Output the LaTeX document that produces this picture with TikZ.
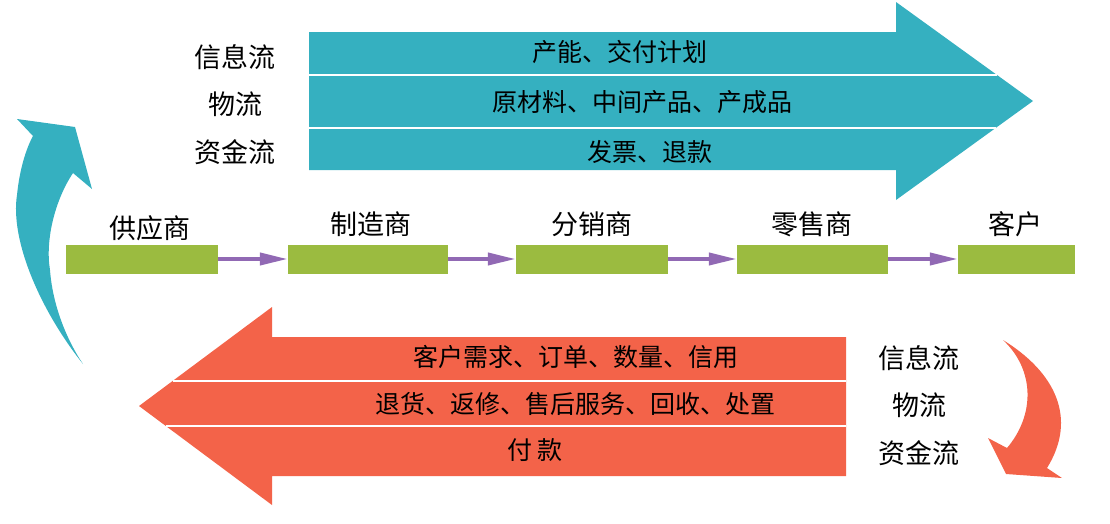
\documentclass[tikz,border=0pt]{standalone}
\usepackage{fontspec}
\setmainfont{Noto Sans CJK SC}
\usetikzlibrary{arrows.meta}
\definecolor{teal1}{RGB}{53,176,192}
\definecolor{red1}{RGB}{243,99,73}
\definecolor{green1}{RGB}{155,187,64}
\definecolor{purp}{RGB}{145,105,180}
\tikzset{
  bar/.style={fill=green1, draw=none, inner sep=0pt, minimum height=29pt},
  lbl/.style={inner sep=0pt, font=\fontsize{27}{32}\selectfont},
  txt/.style={inner sep=0pt, font=\fontsize{25}{30}\selectfont},
  flow/.style={draw=purp, line width=4pt, -{Triangle[length=28pt,width=12pt]}},
  sep/.style={draw=white, line width=2pt}
}
\begin{document}
\begin{tikzpicture}[x=1pt,y=-1pt]
\useasboundingbox (0,0) rectangle (1110,523);
% top arrow
\fill[teal1] (309,32) -- (896,32) -- (896,2) -- (1033,101) -- (896,200) -- (896,170) -- (309,170) -- cycle;
\draw[sep] (309,75) -- (997,75);
\draw[sep] (309,128) -- (996,128);
% bottom arrow
\fill[red1] (139,406) -- (272,307) -- (272,337) -- (846,337) -- (846,476) -- (272,476) -- (272,505) -- cycle;
\draw[sep] (173,381) -- (846,381);
\draw[sep] (166,426) -- (846,426);
% left curved arrow
\fill[teal1] (83,364) .. controls (40,310) and (10,240) .. (17,195)
  .. controls (20,165) and (28,145) .. (33,136) -- (17,119) -- (75,127) -- (92,189) -- (73,173)
  .. controls (55,200) and (45,240) .. (50,270) .. controls (53,310) and (70,345) .. (83,364) -- cycle;
% right curved arrow
\fill[red1] (1003,340) .. controls (1055,372) and (1078,418) .. (1047,468) -- (1062,478) -- (1006,474) -- (988,438) -- (1007,448)
  .. controls (1035,415) and (1035,370) .. (1003,340) -- cycle;
% top labels
\node[lbl] (ti) at (235,57) {信息流};
\node[lbl] (tw) at (235,104) {物流};
\node[lbl] (tz) at (235,152) {资金流};
\node[txt] (ta) at (620,52) {产能、交付计划};
\node[txt] (tb) at (642,102) {原材料、中间产品、产成品};
\node[txt] (tc) at (650,152) {发票、退款};
% bottom labels
\node[txt] (ba) at (576,357) {客户需求、订单、数量、信用};
\node[txt] (bb) at (575,404) {退货、返修、售后服务、回收、处置};
\node[txt] (bc) at (535,450) {付 款};
\node[lbl] (bi) at (919,358) {信息流};
\node[lbl] (bw) at (919,405) {物流};
\node[lbl] (bz) at (919,453) {资金流};
% chain
\node[bar, minimum width=152pt] (b1) at (142,259) {};
\node[bar, minimum width=160pt] (b2) at (368,259) {};
\node[bar, minimum width=152pt] (b3) at (592,259) {};
\node[bar, minimum width=151pt] (b4) at (812.5,259) {};
\node[bar, minimum width=117pt] (b5) at (1016.5,259) {};
\node[lbl] (l1) at (150,228) {供应商};
\node[lbl] (l2) at (371,224) {制造商};
\node[lbl] (l3) at (592,224) {分销商};
\node[lbl] (l4) at (812,224) {零售商};
\node[lbl] (l5) at (1015,224) {客户};
\draw[flow] (b1.east) -- (b2.west);
\draw[flow] (b2.east) -- (b3.west);
\draw[flow] (b3.east) -- (b4.west);
\draw[flow] (b4.east) -- (b5.west);
\end{tikzpicture}
\end{document}
